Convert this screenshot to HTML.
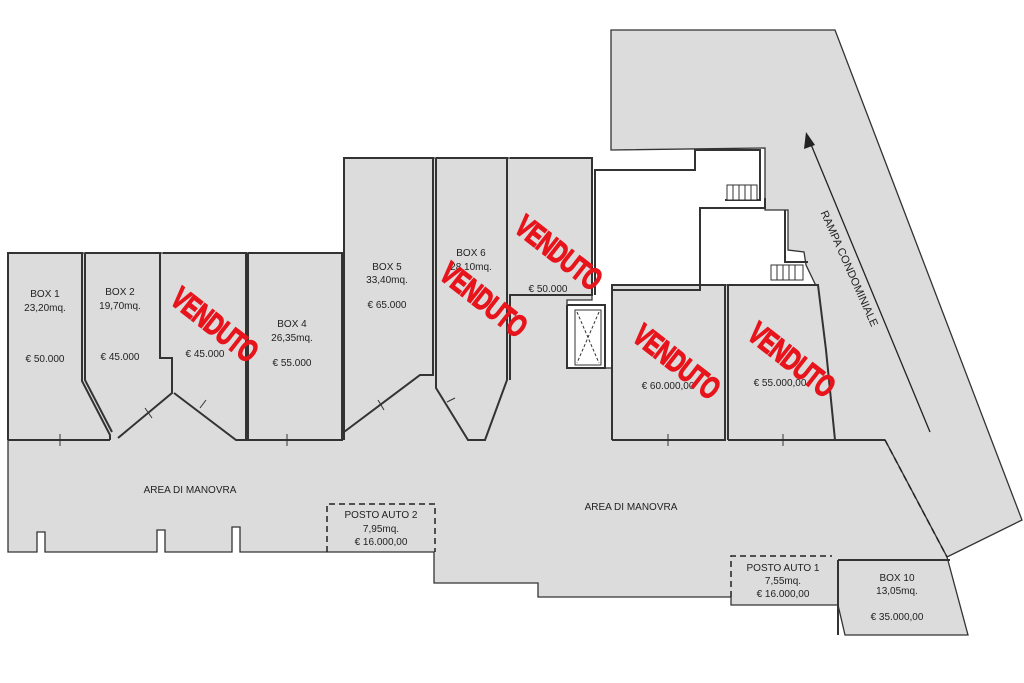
<!DOCTYPE html>
<html><head><meta charset="utf-8"><style>
html,body{margin:0;padding:0;background:#fff}
svg{display:block}
text{font-family:"Liberation Sans",sans-serif}
.l{font-size:10px;fill:#222;text-anchor:middle}
.v{font-size:27px;font-weight:bold;fill:#e8141c;stroke:#e8141c;stroke-width:1.2;text-anchor:middle;letter-spacing:-1px}
</style></head><body>
<svg width="1024" height="683" viewBox="0 0 1024 683" xmlns="http://www.w3.org/2000/svg">
<polygon points="611,30 835,30 1022,520 947,557 885,440 835,440 826,350 818,290 806,265 804,252 788,250 788,210 765,210 765,148 611,150" fill="#dcdcdc" stroke="#333" stroke-width="1.3"/>
<polygon points="8,253 344,253 344,158 592,158 592,300 567,300 567,368 612,368 612,285 818,285 826,350 835,440 885,440 947,557 968,635 845,635 838,605 731,605 731,597 538,597 538,583 434,583 434,552 240,552 240,527 232,527 232,552 165,552 165,530 157,530 157,552 45,552 45,532 37,532 37,552 8,552" fill="#dcdcdc" stroke="#333" stroke-width="1.3"/>
<g fill="none" stroke="#333" stroke-width="2">
<polyline points="8,440 8,253 82,253 82,381 110,435 110,440"/>
<polyline points="8,440 110,440"/>
<polyline points="85,253 160,253 160,358 172,358 172,393 118,438"/>
<polyline points="85,253 85,380 112,432"/>
<polyline points="163,253 246,253 246,440 236,440 174,393"/>
<polyline points="248,253 342,253 342,440 248,440 248,253"/>
<polyline points="344,440 344,158 433,158 433,375 420,375 344,432"/>
<polyline points="436,158 507,158 507,380 485,440 468,440 436,388 436,158"/>
<polyline points="510,158 592,158 592,295 510,295 510,380"/>
<polyline points="567,305 605,305 605,368 567,368 567,305"/>
<polyline points="612,440 612,285 725,285 725,440 612,440"/>
<polyline points="728,440 728,285 818,285 826,350 835,440 728,440"/>
<polyline points="835,440 885,440"/>
<polyline points="595,295 595,170 695,170 695,150 760,150 760,200 725,200"/>
<polyline points="700,290 700,208 765,208 765,198"/>
<polyline points="700,208 700,290 612,290"/>
<polyline points="785,210 785,262 808,262"/>
<polyline points="838,560 950,560"/>
<polyline points="838,560 838,635"/>
</g>
<g stroke="#333" stroke-width="1" fill="none">
<line x1="60" y1="434" x2="60" y2="446"/><line x1="145" y1="408" x2="152" y2="418"/><line x1="200" y1="408" x2="206" y2="400"/>
<line x1="287" y1="434" x2="287" y2="446"/><line x1="378" y1="400" x2="384" y2="410"/><line x1="447" y1="402" x2="455" y2="398"/>
<line x1="668" y1="434" x2="668" y2="446"/><line x1="783" y1="434" x2="783" y2="446"/>
</g>
<g stroke="#333" stroke-width="1" fill="#fff">
<rect x="727" y="185" width="30" height="15"/>
<line x1="733" y1="185" x2="733" y2="200"/><line x1="739" y1="185" x2="739" y2="200"/><line x1="745" y1="185" x2="745" y2="200"/><line x1="751" y1="185" x2="751" y2="200"/>
<rect x="771" y="265" width="32" height="15"/>
<line x1="777" y1="265" x2="777" y2="280"/><line x1="783" y1="265" x2="783" y2="280"/><line x1="789" y1="265" x2="789" y2="280"/><line x1="795" y1="265" x2="795" y2="280"/>
<rect x="575" y="310" width="26" height="55" fill="#fff"/>
<line x1="577" y1="312" x2="599" y2="363" stroke-dasharray="3,2"/><line x1="599" y1="312" x2="577" y2="363" stroke-dasharray="3,2"/>
</g>
<g fill="none" stroke="#222" stroke-width="1.5" stroke-dasharray="6,4">
<polyline points="327,552 327,504 435,504 435,552"/>
<polyline points="731,597 731,556 832,556"/>
<line x1="885" y1="440" x2="947" y2="557"/>
</g>
<line x1="930" y1="432" x2="810" y2="142" stroke="#222" stroke-width="1.3"/>
<polygon points="806,132 804,149 815,145" fill="#222"/>
<text x="846" y="270" font-size="11" fill="#222" transform="rotate(66 846 270)" text-anchor="middle">RAMPA CONDOMINIALE</text>
<g class="l">
<text x="45" y="297">BOX 1</text><text x="45" y="311">23,20mq.</text><text x="45" y="362">€ 50.000</text>
<text x="120" y="295">BOX 2</text><text x="120" y="309">19,70mq.</text><text x="120" y="360">€ 45.000</text>
<text x="205" y="357">€ 45.000</text>
<text x="292" y="327">BOX 4</text><text x="292" y="341">26,35mq.</text><text x="292" y="366">€ 55.000</text>
<text x="387" y="270">BOX 5</text><text x="387" y="283">33,40mq.</text><text x="387" y="308">€ 65.000</text>
<text x="471" y="256">BOX 6</text><text x="471" y="270">28,10mq.</text>
<text x="548" y="292">€ 50.000</text>
<text x="668" y="389">€ 60.000,00</text>
<text x="780" y="386">€ 55.000,00</text>
<text x="190" y="493">AREA DI MANOVRA</text>
<text x="631" y="510">AREA DI MANOVRA</text>
<text x="381" y="518">POSTO AUTO 2</text><text x="381" y="532">7,95mq.</text><text x="381" y="545">€ 16.000,00</text>
<text x="783" y="571">POSTO AUTO 1</text><text x="783" y="584">7,55mq.</text><text x="783" y="597">€ 16.000,00</text>
<text x="897" y="581">BOX 10</text><text x="897" y="594">13,05mq.</text><text x="897" y="620">€ 35.000,00</text>
</g>
<g class="v">
<text transform="translate(208,333) rotate(38) scale(0.8,1.15)">VENDUTO</text>
<text transform="translate(477,308) rotate(38) scale(0.8,1.15)">VENDUTO</text>
<text transform="translate(552,261) rotate(38) scale(0.8,1.15)">VENDUTO</text>
<text transform="translate(670,370) rotate(38) scale(0.8,1.15)">VENDUTO</text>
<text transform="translate(785,368) rotate(38) scale(0.8,1.15)">VENDUTO</text>
</g>
</svg>
</body></html>
